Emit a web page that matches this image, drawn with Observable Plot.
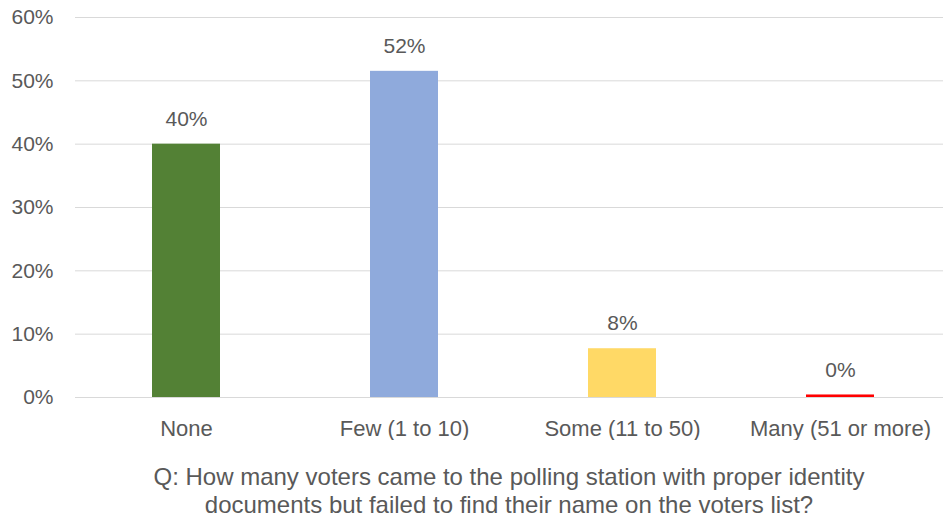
<!DOCTYPE html>
<html>
<head>
<meta charset="utf-8">
<script src="https://cdn.jsdelivr.net/npm/d3@7"></script>
<script src="https://cdn.jsdelivr.net/npm/@observablehq/plot@0.6"></script>
<style>
  body { margin: 0; background: #fff; }
  #chart { width: 943px; }
  .caption { font-family: "Liberation Sans", Arial, sans-serif; font-size: 24px; color: #595959; text-align: center; line-height: 28px; padding-top: 23px; padding-left: 75px; white-space: nowrap; }
</style>
</head>
<body>
<div id="chart"></div>
<script>
const categories = ["None", "Few (1 to 10)", "Some (11 to 50)", "Many (51 or more)"];
const values = [40, 51.5, 7.7, 0.4];
const valueLabels = ["40%", "52%", "8%", "0%"];
const colors = ["#538135", "#8FAADC", "#FFD966", "#FF0000"];
const yTicks = [0, 10, 20, 30, 40, 50, 60];
const captionLines = ["Q: How many voters came to the polling station with proper identity", "documents but failed to find their name on the voters list?"];

const data = categories.map((c, i) => ({ cat: c, value: values[i], label: valueLabels[i], color: colors[i] }));

const chart = Plot.plot({
  width: 943,
  height: 440,
  marginTop: 17,
  marginBottom: 43,
  marginLeft: 75,
  marginRight: 0,
  style: { fontFamily: "'Liberation Sans', Arial, sans-serif", fontSize: "21px", color: "#595959", background: "#fff" },
  x: { domain: categories, range: [77, 949], paddingInner: 0.69, paddingOuter: 0.345, label: null },
  y: { domain: [0, 60], label: null },
  marks: [
    Plot.ruleY(yTicks, { stroke: "#d9d9d9", strokeWidth: 1 }),
    Plot.barY(data, { x: "cat", y: "value", fill: "color" }),
    Plot.text(data, { x: "cat", y: "value", text: "label", dy: -25, fill: "#595959", fontSize: 21 }),
    Plot.axisY(yTicks, { tickSize: 0, tickPadding: 22, tickFormat: d => d + "%", fontSize: 21, fill: "#595959" }),
    Plot.axisX({ tickSize: 0, tickPadding: 23, fontSize: 22, fill: "#595959" })
  ]
});
document.getElementById("chart").appendChild(chart);
const cap = document.createElement("div");
cap.className = "caption";
cap.innerHTML = captionLines.join("<br>");
document.getElementById("chart").appendChild(cap);
</script>
</body>
</html>
